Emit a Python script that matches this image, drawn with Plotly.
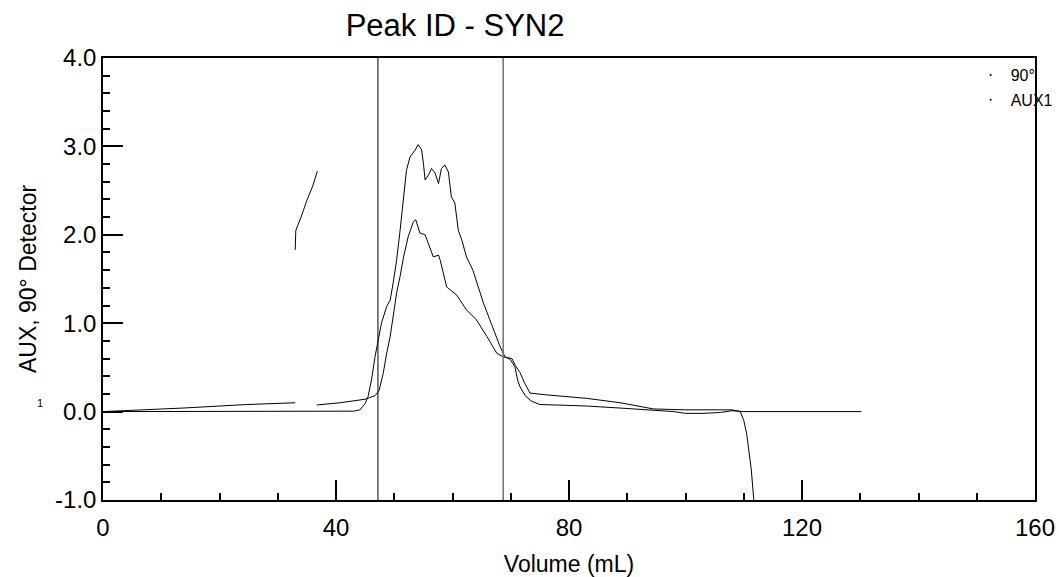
import plotly.graph_objects as go

# --- data ---
# 90 deg detector (taller peak, flat baseline)
vol_90 = [0, 10, 20, 30, 40, 43, 44.1, 45, 45.5, 46.1, 46.7, 47.3, 47.8, 48.7, 49.3,
          49.8, 50.4, 51.0, 51.6, 52.1, 52.7, 53.6, 54.1, 54.7, 55.0, 55.3, 55.9, 56.4,
          57.0, 57.6, 58.1, 58.7, 59.3, 59.8, 60.4, 61.0, 61.6, 62.4, 63.5, 64.4, 65.3,
          66.4, 67.4, 68.2, 69.0, 69.9, 70.7, 71.2, 71.6, 72.5, 73.5, 75, 80, 83,
          88.8, 94.5, 98, 100, 103, 106, 108, 110, 115, 120, 125, 130.2]
sig_90 = [0, 0, 0, 0, 0, 0.005, 0.02, 0.09, 0.17, 0.36, 0.62, 0.81, 1.0, 1.19, 1.26,
          1.45, 1.71, 2.05, 2.43, 2.73, 2.88, 2.96, 3.02, 2.96, 2.81, 2.62, 2.68, 2.75,
          2.70, 2.58, 2.75, 2.79, 2.71, 2.43, 2.36, 2.05, 1.94, 1.75, 1.60, 1.42, 1.23,
          1.04, 0.86, 0.73, 0.62, 0.59, 0.51, 0.35, 0.28, 0.18, 0.12, 0.08, 0.07, 0.063,
          0.04, 0.02, 0.0, -0.02, -0.02, -0.01, 0.01, 0.0, 0.0, 0.0, 0.0, 0.0]

# AUX1 (sloping baseline, spike near 35 mL, dip at the end)
vol_aux = [0, 4, 13.7, 24.7, 33.0, None, 33.0, 33.1, 34.0, 35.0, 36.0, 36.8, None,
           36.7, 40.7, 45.0, 46.7, 47.4, 48.1, 48.7, 49.3, 49.8, 50.4, 51.0, 51.6, 52.4,
           53.3, 53.7, 54.4, 55.3, 56.1, 56.7, 57.6, 57.9, 59.0, 60.7, 62.4, 64.1, 65.9,
           67.6, 68.7, 70.2, 70.8, 71.6, 72.4, 73.3, 76, 80, 83, 88.8, 92.8, 94.5, 100,
           105, 108, 109.4, 110, 110.5, 110.9, 111.3, 111.7, 112.2]
sig_aux = [0, 0.01, 0.04, 0.08, 0.10, None, 1.83, 2.05, 2.2, 2.39, 2.55, 2.72, None,
           0.075, 0.10, 0.14, 0.18, 0.24, 0.43, 0.66, 0.85, 1.07, 1.34, 1.53, 1.75, 1.98,
           2.15, 2.17, 2.02, 2.0, 1.87, 1.75, 1.77, 1.71, 1.41, 1.32, 1.15, 1.04, 0.85,
           0.66, 0.62, 0.60, 0.52, 0.44, 0.32, 0.21, 0.19, 0.17, 0.15, 0.10, 0.05, 0.03, 0.02,
           0.02, 0.02, 0.0, -0.1, -0.25, -0.43, -0.66, -0.98, -1.3]

peak_limits = [47.2, 68.7]
series_names = ["90°", "AUX1"]
y_tick_vals = [-1, 0, 1, 2, 3, 4]
y_tick_text = ["-1.0", "0.0", "1.0", "2.0", "3.0", "4.0"]

FONT = "Liberation Sans, Arial, sans-serif"

fig = go.Figure()
fig.add_trace(go.Scatter(x=vol_90, y=sig_90, mode="lines", showlegend=False,
                         line=dict(color="black", width=1)))
fig.add_trace(go.Scatter(x=vol_aux, y=sig_aux, mode="lines", showlegend=False,
                         line=dict(color="black", width=1)))

# legend entries: tiny dots like the original
for nm in series_names:
    fig.add_trace(go.Scatter(x=[None], y=[None], mode="markers", name=nm,
                             legendgroup=nm, marker=dict(color="black", size=2)))

for k, v in enumerate(peak_limits):
    fig.add_shape(type="line", xref="x", yref="paper", x0=v, x1=v, y0=0, y1=1,
                  line=dict(color="black" if k == 0 else "#707070",
                            width=1 if k == 0 else 1.5))

axis_common = dict(showgrid=False, zeroline=False, showline=True, linecolor="black",
                   linewidth=1.5, mirror=True, ticks="inside", tickcolor="black",
                   tickwidth=1.5, ticklen=20, automargin=False,
                   tickfont=dict(family=FONT, size=24, color="black"))

fig.update_xaxes(range=[0, 160], dtick=40, tick0=0,
                 minor=dict(dtick=10, ticks="inside", ticklen=7, tickcolor="black",
                            tickwidth=1.5),
                 ticklabelstandoff=5,
                 title=dict(text="Volume (mL)", standoff=18,
                            font=dict(family=FONT, size=23, color="black")),
                 **axis_common)
fig.update_yaxes(range=[-1, 4], tickvals=y_tick_vals, ticktext=y_tick_text,
                 minor=dict(dtick=0.2, ticks="inside", ticklen=7, tickcolor="black",
                            tickwidth=1.5),
                 title=dict(text="AUX, 90° Detector", standoff=12,
                            font=dict(family=FONT, size=23, color="black")),
                 **axis_common)

fig.add_annotation(text="1", xref="paper", yref="paper", x=-0.073, y=0.202,
                   showarrow=False, font=dict(family=FONT, size=11, color="black"))

fig.update_layout(
    width=1059, height=577,
    margin=dict(l=103, r=24, t=58, b=77, autoexpand=False),
    paper_bgcolor="white", plot_bgcolor="white",
    title=dict(text="Peak ID - SYN2", x=0.4297, xanchor="center", y=0.9567,
               yanchor="middle", font=dict(family=FONT, size=31, color="black")),
    legend=dict(x=0.931, xanchor="left", y=1.0, yanchor="top", bgcolor="rgba(0,0,0,0)",
                tracegroupgap=1, font=dict(family=FONT, size=16, color="black")),
)

# drop the page's default body margin so the figure fills the window exactly
fig.write_html("out.html", config={"displayModeBar": False},
               post_script="document.body.style.margin='0';"
                           "document.body.style.overflow='hidden';")
